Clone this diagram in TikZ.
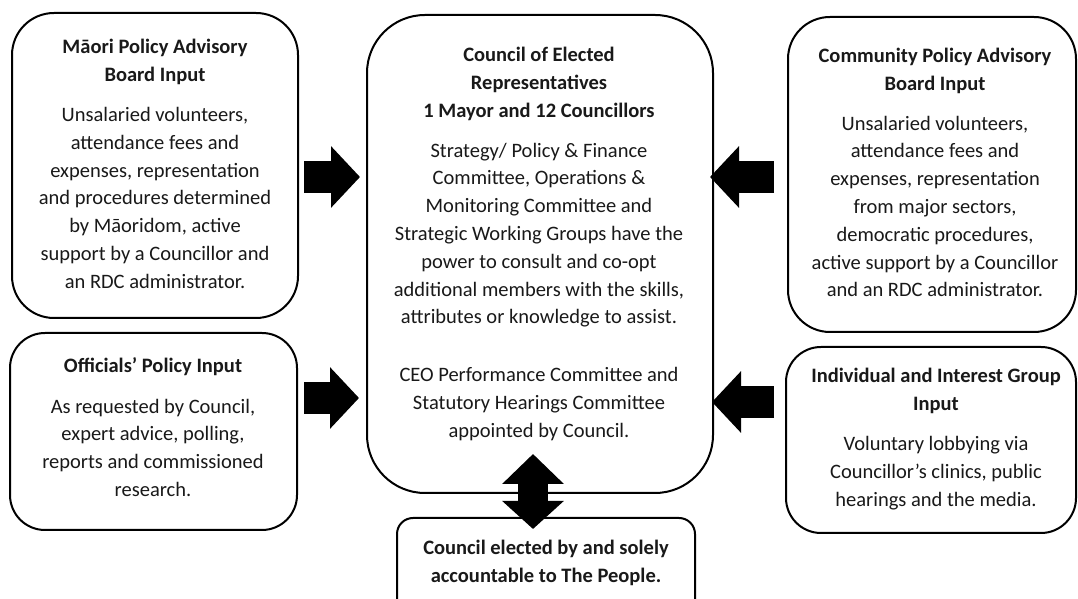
\documentclass[tikz,border=0pt]{standalone}
\usepackage{fontspec}
\setmainfont{Carlito}
\usetikzlibrary{arrows.meta}
\begin{document}
\begin{tikzpicture}[x=1pt,y=1pt,
  frame/.style={draw=black, line width=2pt, rectangle, inner sep=0pt},
  txt/.style={align=center, font=\fontsize{20.5}{27.8}\selectfont, inner sep=0pt, text=black!90},
  blockarrow/.style={draw=black, line width=32pt, -{Triangle[length=29pt,width=60pt]}},
  dblarrow/.style={draw=black, line width=30pt, {Triangle[length=28pt,width=60pt]}-{Triangle[length=30pt,width=60pt]}}]
\clip (0,0) rectangle (1078,599);
\fill[white] (0,0) rectangle (1078,599);

% frames
\node[frame, rounded corners=42pt, minimum width=286pt, minimum height=305pt] (maori) at (155,433.5) {};
\node[frame, rounded corners=35pt, minimum width=287pt, minimum height=197pt] (officials) at (153.5,167.5) {};
\node[frame, rounded corners=58pt, minimum width=346pt, minimum height=478pt] (council) at (540,345) {};
\node[frame, rounded corners=42pt, minimum width=288pt, minimum height=315pt] (community) at (932,424.5) {};
\node[frame, rounded corners=35pt, minimum width=290pt, minimum height=186pt] (indiv) at (931,159) {};
\node[frame, rounded corners=16pt, minimum width=298pt, minimum height=100pt] (people) at (546,31) {};

% texts
\node[txt] (maori-t) at (155,435) {\textbf{Māori Policy Advisory}\\ \textbf{Board Input}\\[12pt]
  Unsalaried volunteers,\\ attendance fees and\\ expenses, representation\\ and procedures determined\\
  by Māoridom, active\\ support by a Councillor and\\ an RDC administrator.};
\node[txt] (council-t) at (539,355) {\textbf{Council of Elected}\\ \textbf{Representatives}\\ \textbf{1 Mayor and 12 Councillors}\\[12pt]
  Strategy/ Policy \& Finance\\ Committee, Operations \&\\ Monitoring Committee and\\
  Strategic Working Groups have the\\ power to consult and co-opt\\ additional members with the skills,\\
  attributes or knowledge to assist.\\[30pt]
  CEO Performance Committee and\\ Statutory Hearings Committee\\ appointed by Council.};
\node[txt] (community-t) at (935,426.5) {\textbf{Community Policy Advisory}\\ \textbf{Board Input}\\[12pt]
  Unsalaried volunteers,\\ attendance fees and\\ expenses, representation\\ from major sectors,\\
  democratic procedures,\\ active support by a Councillor\\ and an RDC administrator.};
\node[txt] (officials-t) at (153,172) {\textbf{Officials' Policy Input}\\[13pt]
  As requested by Council,\\ expert advice, polling,\\ reports and commissioned\\ research.};
\node[txt] (indiv-t) at (936,160) {\textbf{Individual and Interest Group}\\ \textbf{Input}\\[12pt]
  Voluntary lobbying via\\ Councillor's clinics, public\\ hearings and the media.};
\node[txt] (people-t) at (546,36) {\textbf{Council elected by and solely}\\ \textbf{accountable to The People.}};

% arrow rows
\coordinate (rowA) at (0,422);
\coordinate (rowB) at (0,201);
\coordinate (rowC) at (0,197);
\coordinate (colD) at (533,0);

\draw[blockarrow, shorten <=5pt, shorten >=6pt] (maori.east |- rowA) -- (council.west |- rowA);
\draw[blockarrow, shorten <=13pt, shorten >=-4pt] (community.west |- rowA) -- (council.east |- rowA);
\draw[blockarrow, shorten <=6pt, shorten >=7pt] (officials.east |- rowB) -- (council.west |- rowB);
\draw[blockarrow, shorten <=11pt, shorten >=-2pt] (indiv.west |- rowC) -- (council.east |- rowC);
\draw[dblarrow, shorten <=-12pt, shorten >=-40pt] (people.north -| colD) -- (council.south -| colD);
\end{tikzpicture}
\end{document}
